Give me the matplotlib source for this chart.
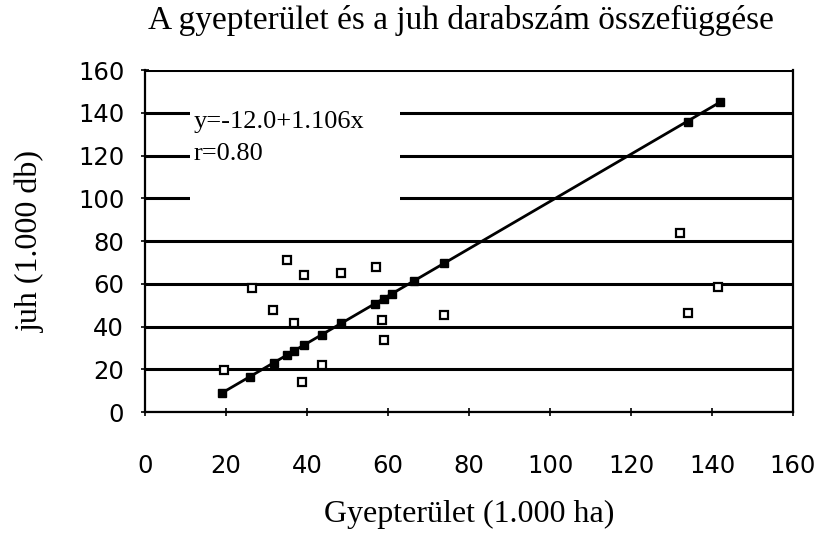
import matplotlib
matplotlib.use("Agg")
import matplotlib.pyplot as plt
import numpy as np

# Data
title = "A gyepterület és a juh darabszám összefüggése"
xlabel = "Gyepterület (1.000 ha)"
ylabel = "juh (1.000 db)"

# observed values (open squares)
obs_x = [19.5, 26.4, 31.7, 35.0, 36.7, 39.2, 38.7, 43.6, 48.5, 57.0, 58.4, 59.0, 73.9, 132.0, 134.0, 141.6]
obs_y = [19.6, 58.0, 47.7, 71.0, 41.6, 64.0, 14.0, 22.0, 65.0, 68.0, 43.0, 33.7, 45.4, 83.7, 46.3, 58.5]

# fitted values (filled markers on the regression line)
fit_x = [19.0, 25.9, 31.8, 35.0, 36.7, 39.2, 43.6, 48.5, 56.7, 58.9, 61.0, 66.5, 73.9, 134.0, 142.0]
fit_y = [9.0, 16.6, 23.2, 26.7, 28.6, 31.4, 36.2, 41.6, 50.7, 53.1, 55.5, 61.5, 69.7, 136.0, 145.0]

intercept = -12.0
slope = 1.106
r_value = 0.80

xticks = [0, 20, 40, 60, 80, 100, 120, 140, 160]
yticks = [0, 20, 40, 60, 80, 100, 120, 140, 160]

fig = plt.figure(figsize=(8.15, 5.36), dpi=100)
ax = fig.add_axes([0.178, 0.231, 0.795, 0.638])

serif = "Liberation Serif"
sans = "DejaVu Sans"

for yv in yticks:
    ax.axhline(yv, color="black", lw=2.2, zorder=1)

lx = np.array([min(fit_x), max(fit_x)])
ax.plot(lx, intercept + slope * lx, color="black", lw=2.0, zorder=3)

ax.plot(fit_x, fit_y, linestyle="none", marker="s", markersize=6,
        markerfacecolor="black", markeredgecolor="black", zorder=4)
ax.plot(obs_x, obs_y, linestyle="none", marker="s", markersize=6,
        markerfacecolor="white", markeredgecolor="black", markeredgewidth=1.6, zorder=4)

# white box holding the equation (cuts the gridlines as in the reference)
ax.add_patch(plt.Rectangle((11, 90), 52, 58, facecolor="white", edgecolor="none", zorder=2))
ax.text(12, 136, "y=%.1f+%.3fx" % (intercept, slope), fontsize=19, family=serif,
        va="center", ha="left", zorder=5)
ax.text(12, 121, "r=%.2f" % r_value, fontsize=19, family=serif,
        va="center", ha="left", zorder=5)

ax.set_xlim(0, 160)
ax.set_ylim(0, 160)
ax.set_xticks(xticks)
ax.set_yticks(yticks)
ax.set_xticklabels([str(v) for v in xticks], family=sans, fontsize=17.5)
ax.set_yticklabels([str(v) for v in yticks], family=sans, fontsize=17.5)
ax.tick_params(axis="x", direction="inout", length=6, width=1.2, pad=27)
ax.tick_params(axis="y", direction="inout", length=6, width=1.2, pad=12)
for s in ax.spines.values():
    s.set_linewidth(1.6)
ax.spines["top"].set_visible(False)

ax.set_xlabel(xlabel, family=serif, fontsize=23, labelpad=16)
ax.set_ylabel(ylabel, family=serif, fontsize=23, labelpad=24)
fig.text(0.565, 0.962, title, family=serif, fontsize=24, ha="center", va="center")

fig.savefig("out.png", dpi=100)
